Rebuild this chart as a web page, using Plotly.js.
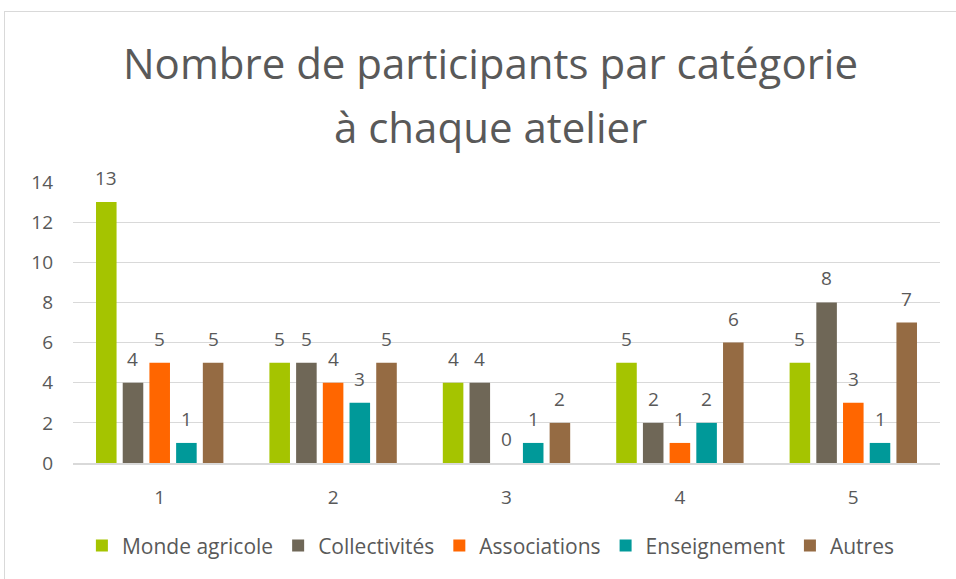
<!DOCTYPE html>
<html><head><meta charset="utf-8">
<script src="https://cdn.plot.ly/plotly-3.0.1.min.js"></script>
<style>
html,body{margin:0;padding:0;background:#fff;}
#wrap{position:relative;width:956px;height:579px;overflow:hidden;}
#chart{width:956px;height:579px;}
#frame{position:absolute;left:4px;top:11px;width:1000px;height:1000px;border:1px solid #d9d9d9;pointer-events:none;box-sizing:border-box;}
</style></head>
<body><div id="wrap"><div id="chart"></div><div id="frame"></div></div>
<script>
const ateliers = ['1','2','3','4','5'];
const mondeAgricole = [13,5,4,5,5];
const collectivites = [4,5,4,2,8];
const associations = [5,4,0,1,3];
const enseignement = [1,3,1,2,1];
const autres = [5,5,2,6,7];
const seriesNames = ['Monde agricole','Collectivités','Associations','Enseignement','Autres'];
const seriesColors = ['#A5C400','#6F6757','#FF6600','#009999','#956B43'];
const seriesValues = [mondeAgricole, collectivites, associations, enseignement, autres];
const yTicks = [0,2,4,6,8,10,12,14];
const titleLines = ['Nombre de participants par catégorie','à chaque atelier'];

const FONT = '"Open Sans", sans-serif';
const GREY = '#595959';

const W = 956, H = 579, M = {l:73,r:16,t:182,b:114};
const BARGAP = 0.23, GROUPGAP = 0.23;
const catPx = (W - M.l - M.r) / ateliers.length;
const slotPx = catPx * (1 - BARGAP) / seriesValues.length;

const traces = seriesValues.map((v,i)=>({
  type:'bar', x:ateliers, y:v, name:seriesNames[i],
  marker:{color:seriesColors[i]},
  hoverinfo:'skip'
}));

const labelAnn = [];
seriesValues.forEach((v,i)=>{
  v.forEach((val,j)=>{
    labelAnn.push({text:String(val), x:j, y:val, xref:'x', yref:'y',
      xshift:(i - (seriesValues.length-1)/2) * slotPx, yshift:24,
      xanchor:'center', yanchor:'middle', showarrow:false,
      font:{family:FONT,size:19,color:GREY}});
  });
});

const layout = {
  width:W, height:H,
  margin:M,
  paper_bgcolor:'#fff', plot_bgcolor:'#fff',
  font:{family:FONT,color:GREY},
  annotations:[
    {text:titleLines[0], xref:'paper', yref:'paper', x:0.482, y:1.424, xanchor:'center', yanchor:'middle',
     showarrow:false, font:{family:FONT,size:42,color:GREY}},
    {text:titleLines[1], xref:'paper', yref:'paper', x:0.482, y:1.198, xanchor:'center', yanchor:'middle',
     showarrow:false, font:{family:FONT,size:42,color:GREY}}
  ].concat(labelAnn),
  barmode:'group', bargap:BARGAP, bargroupgap:GROUPGAP,
  xaxis:{type:'category', range:[-0.5, ateliers.length-0.5], autorange:false,
    showgrid:false, showline:true, linecolor:'#d9d9d9', linewidth:1.5,
    ticks:'', ticklabelstandoff:17, tickfont:{family:FONT,size:19,color:GREY}},
  yaxis:{range:[0,14], tickvals:yTicks, showgrid:true, gridcolor:'#d9d9d9', gridwidth:1,
    zeroline:false, showline:false, ticks:'', ticklabelstandoff:19,
    tickfont:{family:FONT,size:19,color:GREY}},
  showlegend:true,
  legend:{orientation:'h', x:0.482, xanchor:'center', y:-0.295, yanchor:'middle',
    font:{family:FONT,size:21,color:GREY}, itemwidth:30, traceorder:'normal'}
};
Plotly.newPlot('chart', traces, layout, {displayModeBar:false, staticPlot:true});
</script></body></html>
